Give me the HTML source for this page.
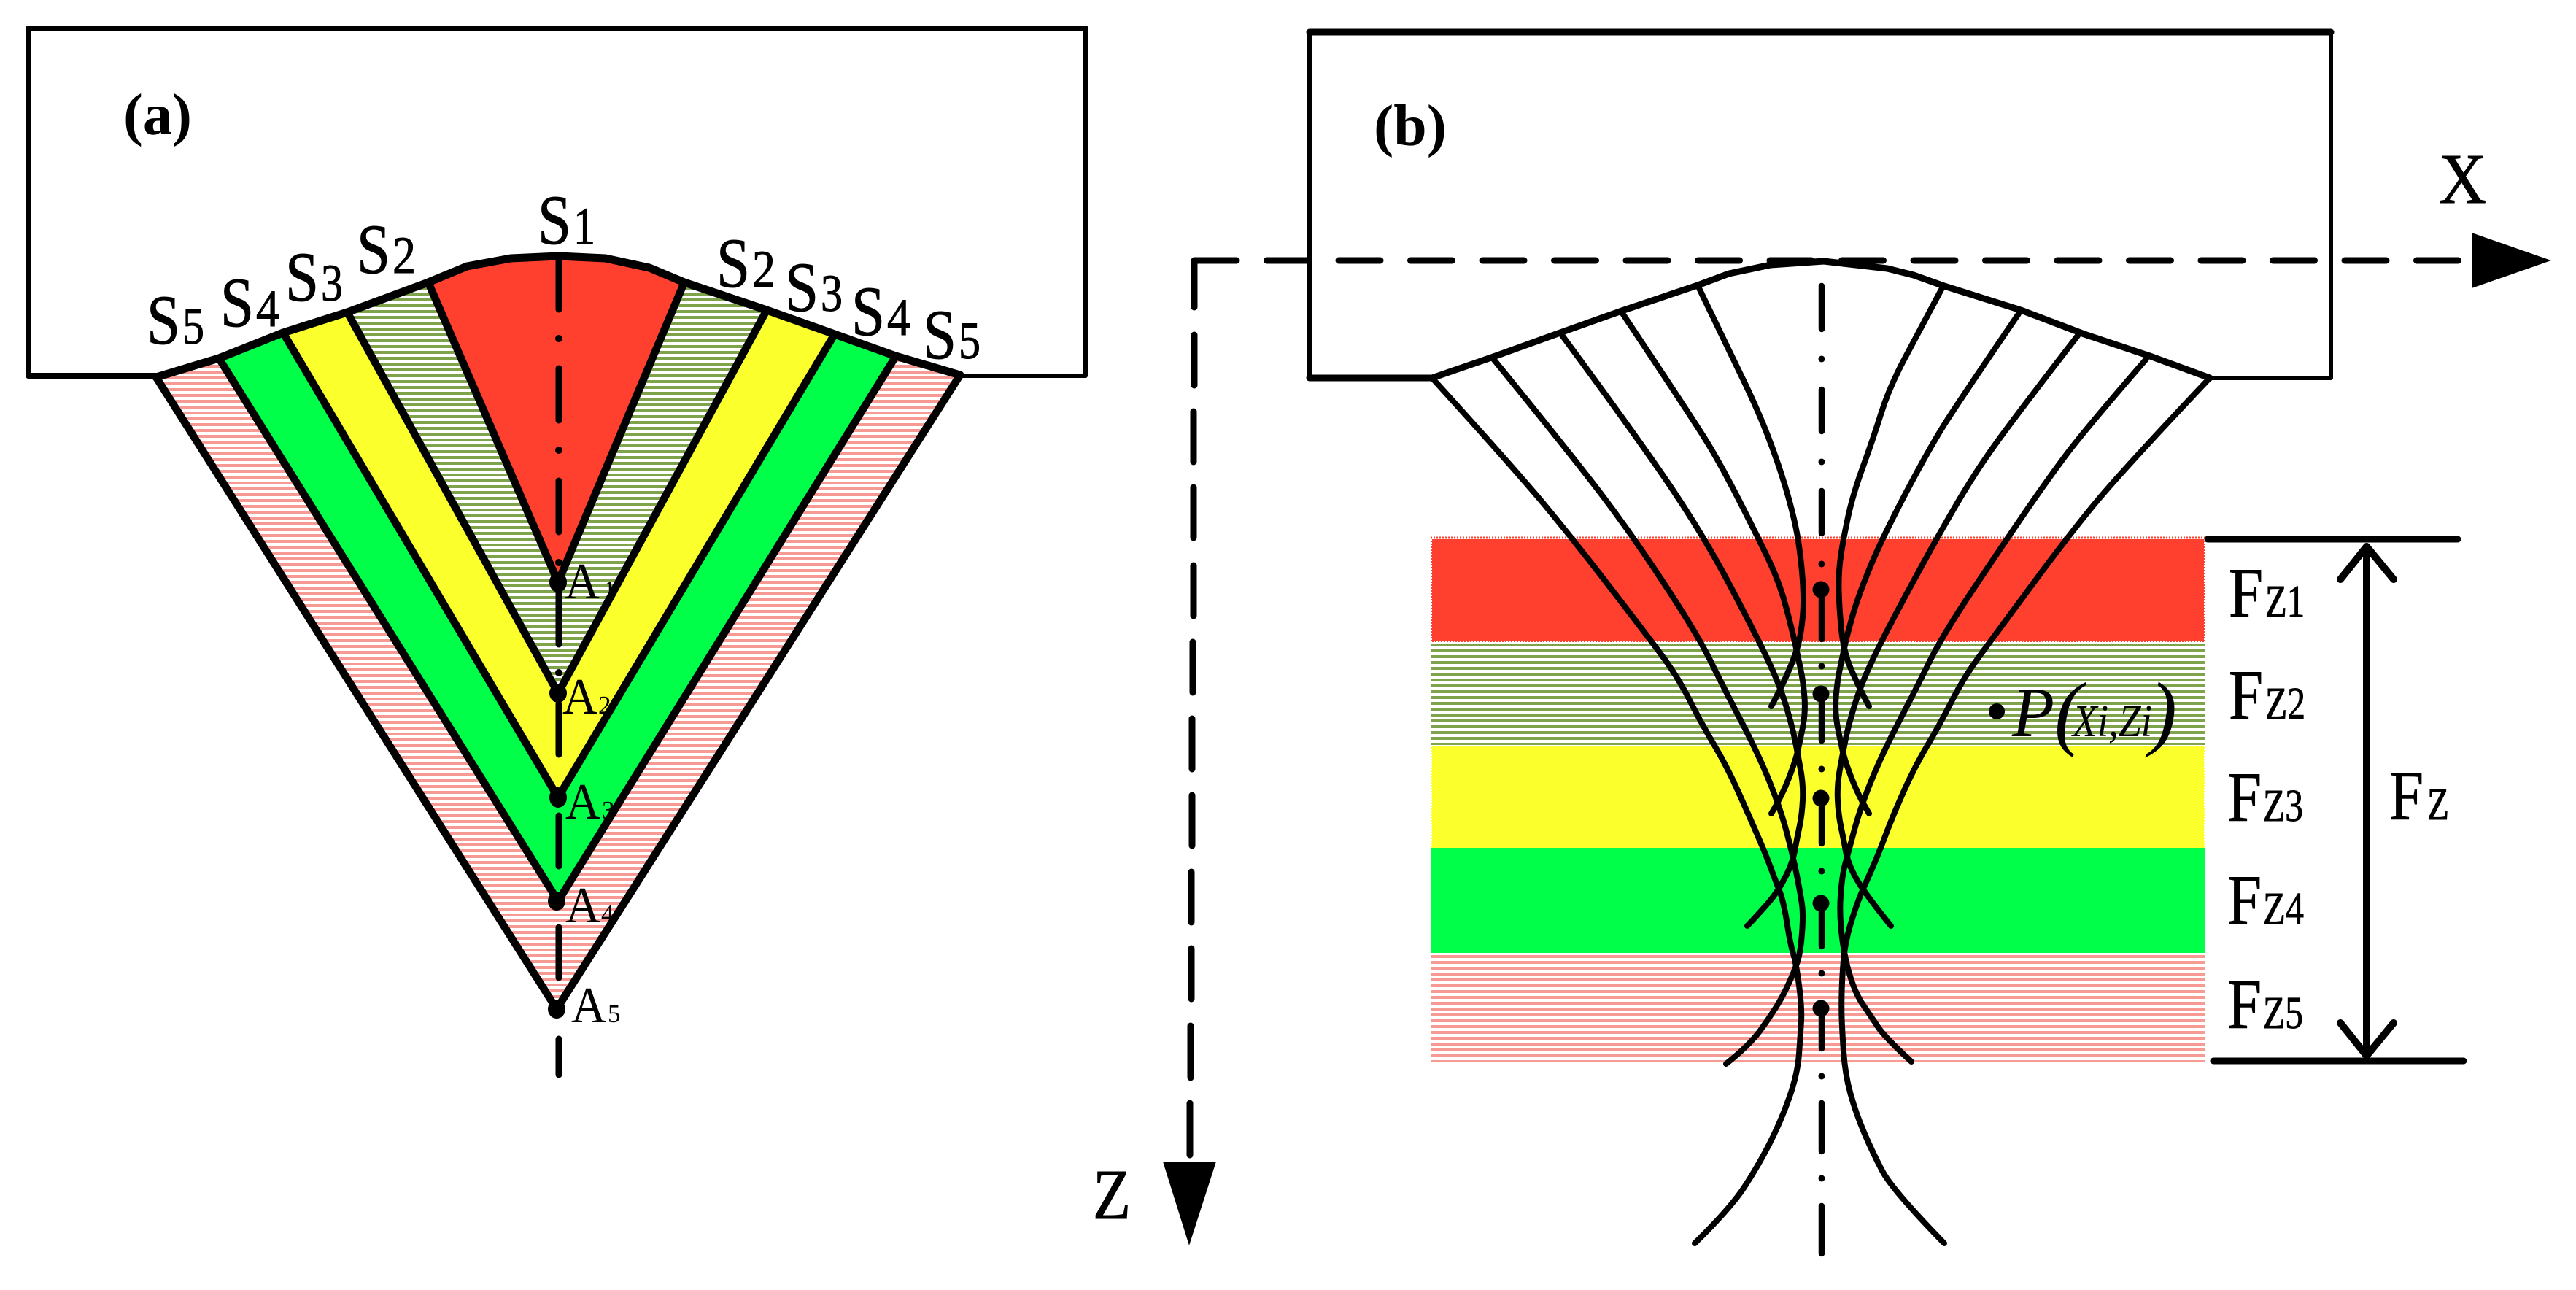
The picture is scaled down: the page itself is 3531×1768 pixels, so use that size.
<!DOCTYPE html>
<html><head><meta charset="utf-8"><style>
html,body{margin:0;padding:0;background:#fff}
svg{display:block}
text{font-family:"Liberation Serif",serif;fill:#000}
.h{stroke:#000;stroke-width:1}
</style></head><body>
<svg xmlns="http://www.w3.org/2000/svg" width="3531" height="1768" viewBox="0 0 3531 1768">
<defs>
<pattern id="oa" patternUnits="userSpaceOnUse" x="0" y="1" width="8" height="8"><rect width="8" height="8" fill="#fff"/><rect width="8" height="4" fill="#7EA34A"/></pattern>
<pattern id="pa" patternUnits="userSpaceOnUse" x="0" y="4" width="8" height="8"><rect width="8" height="8" fill="#fff"/><rect width="8" height="4" fill="#F89A94"/></pattern>
<pattern id="ob" patternUnits="userSpaceOnUse" x="0" y="2" width="8" height="8"><rect width="8" height="8" fill="#fff"/><rect width="8" height="4" fill="#7EA34A"/></pattern>
<pattern id="pb" patternUnits="userSpaceOnUse" x="0" y="5" width="8" height="8"><rect width="8" height="8" fill="#fff"/><rect width="8" height="4" fill="#F89A94"/></pattern>
</defs>
<rect width="3531" height="1768" fill="#fff"/>

<!-- Panel (a) fills -->
<polygon fill="url(#pa)" points="214,517 300,491 388,456 476,428 587,387 640,365 700,354 766,351 830,354 890,367 938,387 1051,425 1144,458 1228,488 1316,514 763,1383"/>
<polygon fill="#00FF48" points="300,491 388,456 476,428 587,387 640,365 700,354 766,351 830,354 890,367 938,387 1051,425 1144,458 1228,488 765,1235"/>
<polygon fill="#FBFF2C" points="388,456 476,428 587,387 640,365 700,354 766,351 830,354 890,367 938,387 1051,425 1144,458 765,1093"/>
<polygon fill="url(#oa)" points="476,428 587,387 640,365 700,354 766,351 830,354 890,367 938,387 1051,425 765,950"/>
<polygon fill="#FF402F" points="587,387 640,365 700,354 766,351 830,354 890,367 938,387 765,790"/>

<!-- A labels -->
<g>
<text x="774" y="820" font-size="70" textLength="48" lengthAdjust="spacingAndGlyphs">A</text><text x="827" y="820" font-size="35">1</text>
<text x="771" y="978" font-size="70" textLength="48" lengthAdjust="spacingAndGlyphs">A</text><text x="820" y="978" font-size="35">2</text>
<text x="775" y="1122" font-size="70" textLength="48" lengthAdjust="spacingAndGlyphs">A</text><text x="825" y="1122" font-size="35">3</text>
<text x="775" y="1264" font-size="70" textLength="48" lengthAdjust="spacingAndGlyphs">A</text><text x="824" y="1264" font-size="35">4</text>
<text x="783" y="1401" font-size="70" textLength="48" lengthAdjust="spacingAndGlyphs">A</text><text x="833" y="1401" font-size="35">5</text>
</g>

<!-- Panel (a) strokes -->
<g fill="none" stroke="#000" stroke-linejoin="round" stroke-linecap="round">
<path stroke-width="8" d="M214,515 H39 V39 H1488"/>
<path stroke-width="6" d="M1488,39 V515 H1316"/>
<polyline stroke-width="11" points="214,517 300,491 388,456 476,428 587,387 640,365 700,354 766,351 830,354 890,367 938,387 1051,425 1144,458 1228,488 1316,514"/>
<g stroke-width="10.5">
<path d="M587,387 L765,798 L938,387"/>
<path d="M476,428 L765,950 L1051,425"/>
<path d="M388,456 L765,1093 L1144,458"/>
<path d="M300,491 L765,1235 L1228,488"/>
<path d="M214,517 L763,1383 L1316,514"/>
</g>
<path stroke-width="9" d="M766,357V424M766,505V576M766,659V729M766,802V883M766,965V1034M766,1118V1187M766,1271V1340M766,1424V1473"/>
</g>
<g fill="#000">
<circle cx="766" cy="464" r="5"/><circle cx="766" cy="617" r="5"/><circle cx="766" cy="771" r="5"/><circle cx="766" cy="922" r="5"/>
<ellipse cx="765" cy="798" rx="12" ry="14"/><ellipse cx="765" cy="950" rx="12" ry="13"/><ellipse cx="765" cy="1093" rx="12" ry="14"/><ellipse cx="763" cy="1235" rx="12" ry="13"/><ellipse cx="763" cy="1383" rx="12" ry="13"/>
</g>

<!-- Panel (a) text -->
<text x="169" y="184" font-size="81" font-weight="bold" textLength="94" lengthAdjust="spacingAndGlyphs">(a)</text>
<g font-size="96" class="h">
<text class="h" x="737" y="334" textLength="46" lengthAdjust="spacingAndGlyphs">S</text><text class="h" x="786" y="334" font-size="72" textLength="30" lengthAdjust="spacingAndGlyphs">1</text>
<text class="h" x="201" y="471" textLength="46" lengthAdjust="spacingAndGlyphs">S</text><text class="h" x="250" y="471" font-size="72" textLength="30" lengthAdjust="spacingAndGlyphs">5</text>
<text class="h" x="302" y="447" textLength="46" lengthAdjust="spacingAndGlyphs">S</text><text class="h" x="351" y="447" font-size="72" textLength="32" lengthAdjust="spacingAndGlyphs">4</text>
<text class="h" x="391" y="412" textLength="46" lengthAdjust="spacingAndGlyphs">S</text><text class="h" x="440" y="412" font-size="72" textLength="30" lengthAdjust="spacingAndGlyphs">3</text>
<text class="h" x="489" y="374" textLength="46" lengthAdjust="spacingAndGlyphs">S</text><text class="h" x="538" y="374" font-size="72" textLength="32" lengthAdjust="spacingAndGlyphs">2</text>
<text class="h" x="982" y="393" textLength="46" lengthAdjust="spacingAndGlyphs">S</text><text class="h" x="1031" y="393" font-size="72" textLength="32" lengthAdjust="spacingAndGlyphs">2</text>
<text class="h" x="1076" y="426" textLength="46" lengthAdjust="spacingAndGlyphs">S</text><text class="h" x="1125" y="426" font-size="72" textLength="30" lengthAdjust="spacingAndGlyphs">3</text>
<text class="h" x="1167" y="459" textLength="46" lengthAdjust="spacingAndGlyphs">S</text><text class="h" x="1216" y="459" font-size="72" textLength="32" lengthAdjust="spacingAndGlyphs">4</text>
<text class="h" x="1265" y="491" textLength="46" lengthAdjust="spacingAndGlyphs">S</text><text class="h" x="1314" y="491" font-size="72" textLength="30" lengthAdjust="spacingAndGlyphs">5</text>
</g>

<!-- Panel (b) bands -->
<rect x="1961" y="739" width="1062" height="141" fill="#FF402F"/>
<rect x="1961" y="880" width="1062" height="141" fill="url(#ob)"/>
<rect x="1961" y="1022" width="1062" height="140" fill="#FBFF2C"/>
<rect x="1961" y="1162" width="1062" height="144" fill="#00FF48"/>
<rect x="1961" y="1306" width="1062" height="150" fill="url(#pb)"/>
<path fill="none" stroke="#FF402F" stroke-width="3" stroke-dasharray="2 2" d="M1961,737H3023"/>
<path fill="none" stroke="#fff" stroke-width="2" stroke-dasharray="2 2" d="M1961,880H3023M1961,1022H3023M1962,739V880M3022,739V880M1962,1022V1162M3022,1022V1162"/>

<!-- Panel (b) frame -->
<g fill="none" stroke="#000" stroke-linejoin="round" stroke-linecap="round">
<path stroke-width="9" d="M1795,44 H3195"/>
<path stroke-width="7" d="M1795,44 V518"/>
<path stroke-width="9" d="M1795,518 H1963"/>
<path stroke-width="6" d="M3195,44 V518 H3029"/>
</g>

<!-- Panel (b) base curve -->
<polyline fill="none" stroke="#000" stroke-width="9" stroke-linejoin="round" stroke-linecap="round" points="1963,518 2047,489 2133,458 2223,426 2327,391 2370,375 2427,363 2500,358 2587,368 2623,377 2665,392 2770,425 2857,458 2947,488 3029,518"/>

<!-- Panel (b) strands -->
<g fill="none" stroke="#000" stroke-width="8" stroke-linejoin="round" stroke-linecap="round">
<path d="M2328,393Q2370,480 2390,521.5T2423.5,598T2447,666.5T2462,725T2470,783.5T2471.5,838.5T2466.5,876.5T2453,916.5T2428,968"/>
<path d="M2662,395Q2633,450 2611.5,490T2578.5,566.5T2553.5,640T2533.5,707T2523.5,760T2520.5,808T2524,863T2537,916.5T2562,968"/>
<path d="M2223,428Q2313,563 2335,598T2383.5,685T2425,768.5T2449,835T2460.5,881.5T2467.5,914T2473.5,956T2471,997T2464,1030T2452,1066.5T2428,1115"/>
<path d="M2767,430Q2690,543 2668.5,576.5T2613.5,673.5T2563.5,777T2539.5,843.5T2529.5,881.5T2522.5,914T2516.5,956T2519,997T2526,1030T2538,1066.5T2562,1115"/>
<path d="M2140,458Q2247,603 2292,670T2372,803.5T2423.5,905T2448.5,968.5T2461,1017T2468.5,1057T2471,1097T2466.5,1133.5T2460,1166.5T2447,1202.5T2425,1236T2395,1269"/>
<path d="M2848,460Q2773,557 2741.5,600T2682.5,690T2619,803.5T2566.5,905T2541.5,968.5T2529,1017T2521.5,1057T2519,1097T2523.5,1133.5T2530,1166.5T2543.5,1202.5T2592,1269"/>
<path d="M2047,492Q2157,627 2198.5,682T2283.5,803.5T2345,906.5T2386.5,988T2425,1070T2448.5,1138.5T2462.5,1197.5T2470,1239.5T2470,1279.5T2464,1317.5T2452.5,1346.5T2437.5,1375.5T2414.5,1410T2366,1458"/>
<path d="M2942,492Q2857,590 2832,623.5T2779.5,697T2707.5,803.5T2645,906.5T2603.5,988T2565,1070T2541.5,1138.5T2529,1185T2523,1227T2525,1285T2536.5,1339.5T2554,1377.5T2573.5,1406.5T2620,1455"/>
<path d="M1963,518Q2080,647 2118.5,693.5T2207,805T2278.5,899T2316.5,960.5T2350,1021.5T2382,1083.5T2408.5,1143.5T2426.5,1187.5T2439,1220.5T2449.5,1265T2458,1307T2466,1350.5T2469,1399T2466,1444.5T2452.5,1504.5T2425.5,1567.5T2391,1627T2323,1704"/>
<path d="M3029,518Q2907,647 2870,692T2784,803.5T2713.5,899T2675.5,960.5T2642,1021.5T2610,1083.5T2585,1143.5T2568.5,1185T2554,1218T2537.5,1263.5T2527,1315.5T2524.5,1360T2524.5,1395T2527,1441T2536.5,1499T2555.5,1553T2580.5,1605.5T2665,1704"/>
</g>

<!-- Panel (b) centre line -->
<g fill="none" stroke="#000" stroke-width="8.5" stroke-linecap="round">
<path d="M2497,392V451M2497,534V591M2497,673V731M2497,808V876M2497,951V1015M2497,1094V1156M2497,1238V1297M2497,1382V1437M2497,1512V1578M2497,1653V1718"/>
</g>
<g fill="#000">
<circle cx="2497" cy="492" r="4.5"/><circle cx="2497" cy="633" r="4.5"/><circle cx="2497" cy="773" r="4.5"/><circle cx="2497" cy="913" r="4.5"/><circle cx="2497" cy="1054" r="4.5"/><circle cx="2497" cy="1194" r="4.5"/><circle cx="2497" cy="1334" r="4.5"/><circle cx="2497" cy="1475" r="4.5"/><circle cx="2497" cy="1615" r="4.5"/>
<circle cx="2496" cy="808" r="11.5"/><circle cx="2496" cy="951" r="11.5"/><circle cx="2496" cy="1094" r="11.5"/><circle cx="2496" cy="1238" r="11.5"/><circle cx="2496" cy="1382" r="11.5"/>
</g>

<!-- Axes -->
<g fill="none" stroke="#000" stroke-linecap="round" stroke-width="9">
<path stroke-dasharray="57 41.5" d="M1638,357 H3384"/>
<path d="M1637,357V421M1637,459V528M1636,564V633M1636,668V737M1636,775V844M1635,880V949M1634,985V1054M1634,1090V1159M1633,1195V1264M1633,1300V1369M1632,1406V1477M1631,1512V1583"/>
</g>
<polygon fill="#000" points="3388,319 3497,357 3388,395"/>
<polygon fill="#000" points="1594,1592 1667,1592 1630,1707"/>
<text class="h" x="3343" y="278" font-size="98" textLength="65" lengthAdjust="spacingAndGlyphs">X</text>
<text class="h" x="1498" y="1670" font-size="98" textLength="52" lengthAdjust="spacingAndGlyphs">Z</text>
<text x="1883" y="199" font-size="81" font-weight="bold" textLength="100" lengthAdjust="spacingAndGlyphs">(b)</text>

<!-- Fz brackets -->
<g fill="none" stroke="#000" stroke-linecap="round" stroke-linejoin="round">
<path stroke-width="9" d="M3026,739H3369M3034,1454H3377"/>
<path stroke-width="10" d="M3244,749V1447M3208,794L3244,749L3281,794M3208,1402L3244,1447L3281,1402"/>
</g>

<!-- Fz labels -->
<g font-size="96">
<text class="h" x="3055" y="845" textLength="47" lengthAdjust="spacingAndGlyphs">F</text><text class="h" x="3105" y="845" font-size="62" textLength="54" lengthAdjust="spacingAndGlyphs">Z1</text>
<text class="h" x="3055" y="985" textLength="47" lengthAdjust="spacingAndGlyphs">F</text><text class="h" x="3105" y="985" font-size="62" textLength="55" lengthAdjust="spacingAndGlyphs">Z2</text>
<text class="h" x="3053" y="1125" textLength="47" lengthAdjust="spacingAndGlyphs">F</text><text class="h" x="3102" y="1125" font-size="62" textLength="55" lengthAdjust="spacingAndGlyphs">Z3</text>
<text class="h" x="3053" y="1266" textLength="47" lengthAdjust="spacingAndGlyphs">F</text><text class="h" x="3102" y="1266" font-size="62" textLength="56" lengthAdjust="spacingAndGlyphs">Z4</text>
<text class="h" x="3053" y="1409" textLength="47" lengthAdjust="spacingAndGlyphs">F</text><text class="h" x="3102" y="1409" font-size="62" textLength="55" lengthAdjust="spacingAndGlyphs">Z5</text>
<text class="h" x="3275" y="1123" textLength="47" lengthAdjust="spacingAndGlyphs">F</text><text class="h" x="3327" y="1123" font-size="62" textLength="30" lengthAdjust="spacingAndGlyphs">Z</text>
</g>

<!-- P(Xi,Zi) -->
<circle cx="2737" cy="975" r="11" fill="#000"/>
<g font-style="italic">
<text x="2758" y="1009" font-size="98" textLength="58" lengthAdjust="spacingAndGlyphs">P</text>
<text x="2816" y="1014" font-size="114" textLength="38" lengthAdjust="spacingAndGlyphs">(</text>
<text x="2841" y="1009" font-size="62" textLength="109" lengthAdjust="spacingAndGlyphs">Xi,Zi</text>
<text x="2946" y="1014" font-size="114" textLength="38" lengthAdjust="spacingAndGlyphs">)</text>
</g>
</svg>
</body></html>
